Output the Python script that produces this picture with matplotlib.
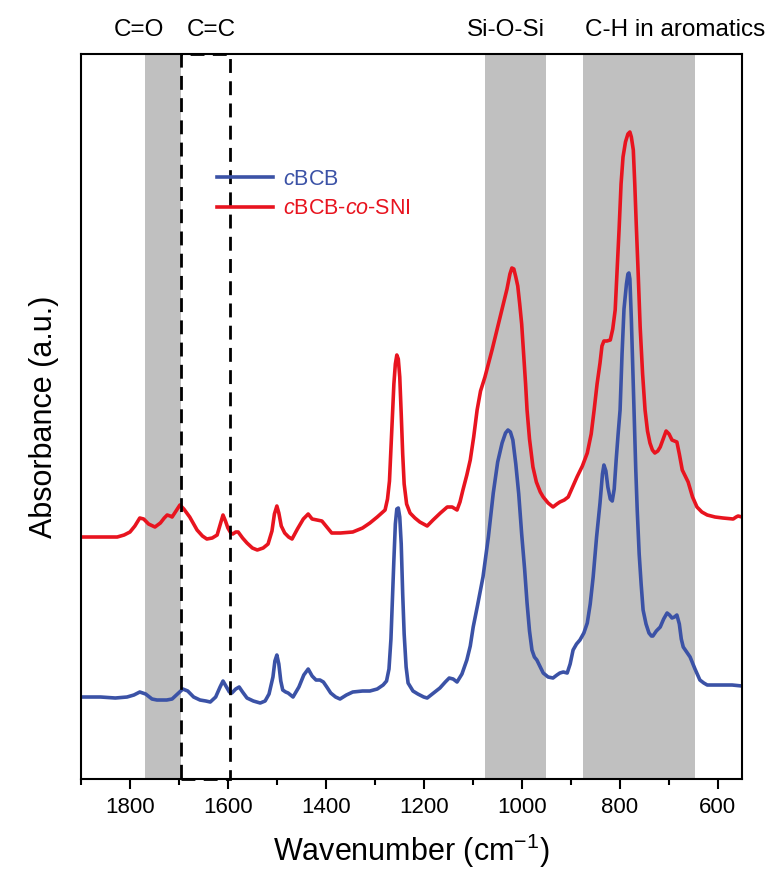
import matplotlib
matplotlib.use("Agg")
import matplotlib.pyplot as plt
import matplotlib.transforms as mtransforms
from matplotlib.patches import Rectangle
import numpy as np

plt.rcParams['font.family'] = ['Liberation Sans', 'DejaVu Sans']
plt.rcParams['mathtext.fontset'] = 'custom'
plt.rcParams['mathtext.rm'] = 'Liberation Sans'
plt.rcParams['mathtext.it'] = 'Liberation Sans:italic'
plt.rcParams['mathtext.default'] = 'regular'

# cBCB spectrum (wavenumber in cm-1, absorbance a.u.)
wn_cbcb = [1898, 1860, 1830, 1806, 1792, 1780, 1768, 1755, 1745, 1725, 1714, 1703,
           1692, 1682, 1670, 1657, 1645, 1636, 1625, 1616, 1610, 1604, 1597, 1592,
           1584, 1577, 1570, 1561, 1548, 1534, 1524, 1516, 1508, 1504, 1500, 1496,
           1492, 1488, 1482, 1477, 1467, 1455, 1445, 1436, 1428, 1420, 1412, 1405,
           1398, 1390, 1380, 1371, 1358, 1345, 1325, 1310, 1295, 1283, 1276, 1271,
           1267, 1264, 1261, 1258, 1255, 1252, 1249, 1246, 1243, 1240, 1236, 1232,
           1222, 1212, 1200, 1193, 1180, 1167, 1156, 1148, 1140, 1132, 1122, 1112,
           1105, 1099, 1090, 1079, 1068, 1058, 1049, 1040, 1033, 1028, 1023, 1018,
           1012, 1006, 1000, 994, 989, 984, 979, 974, 969, 962, 956, 946,
           936, 928, 922, 915, 907, 901, 895, 888, 881, 873, 866, 860,
           854, 847, 840, 835, 832, 828, 824, 819, 815, 811, 807, 803,
           799, 795, 791, 786, 783, 781, 779, 776, 773, 770, 767, 764,
           760, 756, 752, 746, 740, 735, 732, 725, 717, 710, 703, 698,
           693, 688, 683, 678, 674, 670, 663, 656, 646, 636, 628, 621,
           605, 589, 570, 550]
abs_cbcb = [0.82, 0.82, 0.81, 0.82, 0.84, 0.87, 0.85, 0.80, 0.79, 0.79, 0.80, 0.85,
            0.90, 0.88, 0.82, 0.79, 0.78, 0.77, 0.82, 0.92, 0.98, 0.93, 0.87, 0.86,
            0.90, 0.92, 0.87, 0.81, 0.78, 0.76, 0.78, 0.85, 1.02, 1.18, 1.24, 1.15,
            0.98, 0.89, 0.87, 0.86, 0.82, 0.92, 1.04, 1.10, 1.03, 0.99, 0.99, 0.97,
            0.92, 0.86, 0.82, 0.80, 0.84, 0.87, 0.88, 0.88, 0.90, 0.94, 0.98, 1.10,
            1.40, 1.80, 2.19, 2.55, 2.70, 2.71, 2.62, 2.35, 1.85, 1.45, 1.12, 0.96,
            0.88, 0.85, 0.82, 0.81, 0.86, 0.91, 0.97, 1.01, 1.00, 0.97, 1.05, 1.19,
            1.33, 1.52, 1.74, 2.02, 2.42, 2.86, 3.17, 3.36, 3.46, 3.49, 3.47, 3.39,
            3.15, 2.85, 2.45, 2.10, 1.76, 1.48, 1.29, 1.22, 1.19, 1.12, 1.06, 1.02,
            1.01, 1.04, 1.06, 1.07, 1.06, 1.15, 1.29, 1.35, 1.39, 1.46, 1.56, 1.75,
            2.02, 2.42, 2.76, 3.05, 3.14, 3.08, 2.92, 2.80, 2.78, 2.90, 3.19, 3.45,
            3.69, 4.25, 4.70, 4.95, 5.05, 5.06, 5.00, 4.60, 4.10, 3.60, 3.10, 2.69,
            2.25, 1.95, 1.69, 1.55, 1.46, 1.43, 1.43, 1.48, 1.52, 1.60, 1.66, 1.64,
            1.61, 1.62, 1.64, 1.55, 1.40, 1.32, 1.27, 1.22, 1.10, 0.99, 0.96, 0.94,
            0.94, 0.94, 0.94, 0.93]

# cBCB-co-SNI spectrum
wn_sni = [1898, 1860, 1826, 1812, 1800, 1790, 1780, 1772, 1762, 1749, 1738, 1730,
          1724, 1718, 1714, 1706, 1698, 1690, 1684, 1678, 1670, 1663, 1652, 1643,
          1632, 1622, 1616, 1610, 1605, 1600, 1594, 1590, 1584, 1579, 1570, 1561,
          1550, 1540, 1528, 1518, 1510, 1505, 1500, 1496, 1491, 1484, 1476, 1469,
          1458, 1446, 1436, 1428, 1418, 1408, 1398, 1388, 1370, 1345, 1325, 1310,
          1295, 1279, 1274, 1270, 1267, 1264, 1261, 1258, 1255, 1252, 1249, 1246,
          1243, 1240, 1235, 1228, 1218, 1208, 1193, 1181, 1166, 1152, 1142, 1132,
          1126, 1120, 1112, 1105, 1098, 1091, 1084, 1075, 1060, 1044, 1030, 1024,
          1020, 1016, 1012, 1008, 1004, 1000, 996, 992, 989, 984, 977, 970,
          962, 956, 946, 936, 928, 922, 913, 905, 896, 887, 876, 866,
          858, 852, 846, 840, 836, 832, 826, 819, 814, 809, 805, 801,
          797, 793, 788, 783, 779, 776, 772, 769, 766, 762, 758, 753,
          748, 743, 738, 733, 728, 722, 717, 711, 705, 699, 693, 688,
          683, 678, 672, 666, 660, 651, 642, 632, 621, 605, 589, 568,
          562, 558, 550]
abs_sni = [2.42, 2.42, 2.42, 2.44, 2.47, 2.53, 2.61, 2.60, 2.55, 2.52, 2.56, 2.61,
           2.64, 2.63, 2.62, 2.68, 2.74, 2.70, 2.66, 2.62, 2.55, 2.49, 2.43, 2.40,
           2.41, 2.44, 2.54, 2.64, 2.58, 2.51, 2.46, 2.45, 2.47, 2.47, 2.41, 2.36,
           2.31, 2.29, 2.31, 2.35, 2.48, 2.65, 2.73, 2.66, 2.53, 2.46, 2.42, 2.40,
           2.50, 2.60, 2.65, 2.60, 2.59, 2.58, 2.52, 2.46, 2.46, 2.47, 2.51, 2.56,
           2.62, 2.69, 2.80, 2.98, 3.30, 3.62, 3.95, 4.15, 4.24, 4.20, 4.02, 3.65,
           3.25, 2.95, 2.75, 2.66, 2.61, 2.57, 2.53, 2.59, 2.66, 2.72, 2.72, 2.69,
           2.77, 2.89, 3.04, 3.19, 3.42, 3.69, 3.88, 4.02, 4.30, 4.62, 4.90, 5.05,
           5.11, 5.10, 5.02, 4.93, 4.75, 4.55, 4.25, 3.95, 3.69, 3.40, 3.12, 2.97,
           2.87, 2.82, 2.76, 2.72, 2.75, 2.77, 2.79, 2.82, 2.92, 3.02, 3.13, 3.26,
           3.45, 3.69, 3.95, 4.16, 4.33, 4.38, 4.38, 4.39, 4.50, 4.69, 5.10, 5.50,
           5.95, 6.22, 6.37, 6.45, 6.47, 6.42, 6.29, 5.95, 5.55, 5.05, 4.52, 4.05,
           3.69, 3.48, 3.36, 3.29, 3.26, 3.28, 3.32, 3.40, 3.48, 3.45, 3.39, 3.38,
           3.37, 3.25, 3.09, 3.03, 2.97, 2.82, 2.72, 2.67, 2.64, 2.62, 2.61, 2.60,
           2.62, 2.63, 2.62]

# shaded bands and their labels
bands = [(1770, 1695), (1075, 950), (875, 645)]
box_cc = (1695, 1595)
band_labels = ["C=O", "C=C", "Si-O-Si", "C-H in aromatics"]
label_x = [139, 211, 506, 675]  # centre, figure pixels

fig = plt.figure(figsize=(7.79, 8.75), dpi=100)
ax = fig.add_axes([0.104, 0.1097, 0.8485, 0.8286])

for lo, hi in bands:
    ax.axvspan(hi, lo, color="#c0c0c0", lw=0, zorder=0)

trans = mtransforms.blended_transform_factory(ax.transData, ax.transAxes)
rect = Rectangle((box_cc[0], 0), box_cc[1] - box_cc[0], 1, transform=trans,
                 fill=False, edgecolor="black", lw=2, linestyle=(0, (5, 3)),
                 clip_on=False, zorder=3)
ax.add_patch(rect)

ax.plot(wn_cbcb, abs_cbcb, color="#3b52a6", lw=2.6, label=r"$\mathit{c}$BCB",
        solid_joinstyle="round")
ax.plot(wn_sni, abs_sni, color="#e8141f", lw=2.6,
        label=r"$\mathit{c}$BCB-$\mathit{co}$-SNI", solid_joinstyle="round")

ax.set_xlim(1900, 550)
ax.set_ylim(0, 7.25)
ax.set_yticks([])
ax.set_xticks([1800, 1600, 1400, 1200, 1000, 800, 600])
ax.set_xticks(np.arange(1900, 549, -100), minor=True)
ax.tick_params(axis="x", which="major", direction="out", length=7, width=1.5,
               labelsize=16, pad=6)
ax.tick_params(axis="x", which="minor", direction="out", length=4.5, width=1.5)
for sp in ax.spines.values():
    sp.set_linewidth(1.5)

ax.set_xlabel("Wavenumber (cm$^{-1}$)", fontsize=22, labelpad=10)
ax.set_ylabel("Absorbance (a.u.)", fontsize=22, labelpad=16)

leg = ax.legend(loc="upper left", bbox_to_anchor=(0.206, 0.842), frameon=False,
                fontsize=15.5, handlelength=2.6, handletextpad=0.45,
                labelspacing=0.4, borderpad=0, borderaxespad=0)
for txt, line in zip(leg.get_texts(), leg.get_lines()):
    txt.set_color(line.get_color())

for lab, px in zip(band_labels, label_x):
    fig.text(px / 779, 1 - 30 / 875, lab, ha="center", va="center", fontsize=17.5)

fig.savefig("out.png", dpi=100)
